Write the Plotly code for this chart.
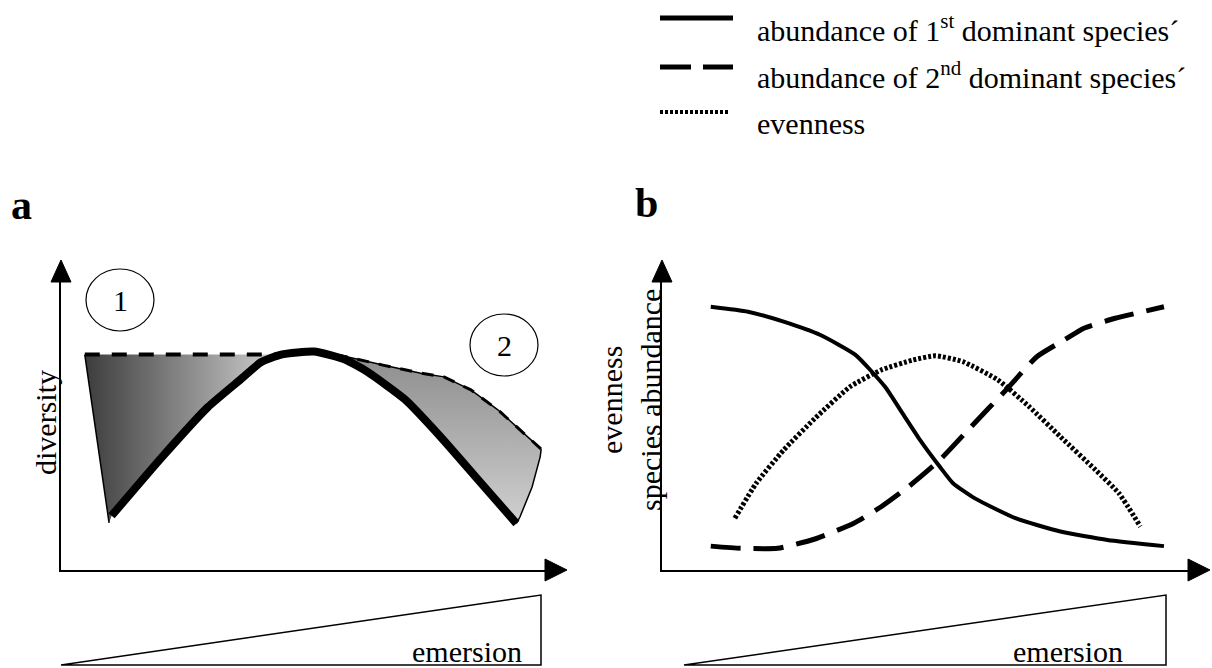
import plotly.graph_objects as go

W, H = 1212, 668
FONT = "Liberation Serif, Times New Roman, serif"


def px(x):
    return x / W


def py(y):
    return 1 - y / H


# ---------------- panel a: diversity along the emersion gradient ----------------
emersion_a = [10, 20, 29, 35.5, 39.5, 43.5, 50, 56, 60.5, 68, 75, 82.5, 90]
diversity_realised = [17.5, 36.5, 52.5, 61.5, 67, 69.5, 70.5, 68, 64, 55, 43, 29, 15]

# potential diversity (upper envelope of the shaded areas)
potential_left_x = [4.7, 43.5]
potential_left_y = [69.5, 69.5]
potential_right_x = [50, 56.7, 63.6, 71.1, 75.7, 81.0, 86.4, 90.7, 94.9]
potential_right_y = [70.5, 68.7, 66.1, 63.5, 62.3, 58.1, 51.6, 45.2, 39.0]

# outer edges closing the shaded areas
edge_left_x = [4.7, 9.5]
edge_left_y = [69.5, 15.2]
edge_right_x = [94.9, 94.7, 93.1, 90.7, 90]
edge_right_y = [39.0, 36.5, 26.8, 17.1, 15]

# ---------------- panel b: abundance and evenness ----------------
emersion_first = [8.9, 15.7, 22.2, 28.9, 35.3, 40.7, 43.9, 47.1, 50.7, 53.1, 57.1, 64.5, 72.7, 81.3, 91.6]
abundance_first = [84.9, 83.3, 80.1, 75.8, 69.4, 59.1, 50.5, 41.9, 33.3, 28.0, 23.1, 16.7, 12.4, 9.7, 7.7]

emersion_second = [8.9, 14.3, 21.1, 27.9, 35.0, 40.0, 45.0, 50.7, 56.4, 62.8, 68.4, 73.4, 77.0, 82.7, 91.6]
abundance_second = [7.7, 7.0, 7.0, 10.0, 15.1, 20.4, 26.9, 35.5, 46.2, 58.1, 68.8, 74.2, 78.0, 81.2, 84.9]

emersion_even = [13.3, 17.2, 22.2, 27.9, 34.3, 40.0, 45.7, 49.9, 54.9, 61.3, 67.0, 72.7, 79.1, 83.4, 87.3]
evenness = [16.7, 28.0, 38.7, 48.9, 59.1, 64.5, 67.7, 69.1, 67.2, 61.3, 52.7, 43.0, 32.3, 24.7, 14.0]

legend_labels = [
    "abundance of 1<sup>st</sup> dominant species\u00b4",
    "abundance of 2<sup>nd</sup> dominant species\u00b4",
    "evenness",
]

# axis geometry (pixels): origin, end of the axis line, arrow tip
A_X0, A_XEND, A_XTIP = 61, 546, 567
B_X0, B_XEND, B_XTIP = 662, 1189, 1210
Y0, YEND, YTIP = 570, 281, 260
SX_A, SX_B, SY = 5.06, 5.48, 3.10  # pixels per data unit

fig = go.Figure()

# shaded area left of the optimum
left_poly_x = potential_left_x + [x for x in reversed(emersion_a) if x <= 43.5] + [edge_left_x[1]]
left_poly_y = potential_left_y + [y for x, y in zip(reversed(emersion_a), reversed(diversity_realised)) if x <= 43.5] + [edge_left_y[1]]
fig.add_trace(go.Scatter(
    x=left_poly_x, y=left_poly_y, mode="lines", fill="toself",
    line=dict(width=0, color="rgba(0,0,0,0)"),
    fillgradient=dict(type="horizontal", colorscale=[[0, "#3c3c3c"], [1, "#d2d2d2"]]),
    hoverinfo="skip", xaxis="x", yaxis="y"))

# shaded area right of the optimum
right_curve = [(x, y) for x, y in zip(emersion_a, diversity_realised) if x >= 50]
right_poly_x = [p[0] for p in right_curve] + list(reversed(edge_right_x)) + list(reversed(potential_right_x))
right_poly_y = [p[1] for p in right_curve] + list(reversed(edge_right_y)) + list(reversed(potential_right_y))
fig.add_trace(go.Scatter(
    x=right_poly_x, y=right_poly_y, mode="lines", fill="toself",
    line=dict(width=0, color="rgba(0,0,0,0)"),
    fillgradient=dict(type="vertical", colorscale=[[0, "#d0d0d0"], [1, "#8c8c8c"]]),
    hoverinfo="skip", xaxis="x", yaxis="y"))

# thin outlines
for xs, ys in [(edge_left_x, edge_left_y), (edge_right_x, edge_right_y), (potential_right_x, potential_right_y)]:
    fig.add_trace(go.Scatter(x=xs, y=ys, mode="lines", line=dict(color="black", width=1.5),
                             hoverinfo="skip", xaxis="x", yaxis="y"))

# dashed potential diversity
fig.add_trace(go.Scatter(x=potential_left_x, y=potential_left_y, mode="lines",
                         line=dict(color="black", width=4, dash="15px,12px"),
                         hoverinfo="skip", xaxis="x", yaxis="y"))
fig.add_trace(go.Scatter(x=potential_right_x, y=potential_right_y, mode="lines",
                         line=dict(color="black", width=3, dash="12px,10px"),
                         hoverinfo="skip", xaxis="x", yaxis="y"))

# realised diversity
fig.add_trace(go.Scatter(x=emersion_a, y=diversity_realised, mode="lines",
                         line=dict(color="black", width=8, shape="spline", smoothing=0.5),
                         hoverinfo="skip", xaxis="x", yaxis="y"))

# panel b curves
fig.add_trace(go.Scatter(x=emersion_first, y=abundance_first, mode="lines",
                         line=dict(color="black", width=4, shape="spline", smoothing=0.5),
                         hoverinfo="skip", xaxis="x2", yaxis="y2"))
fig.add_trace(go.Scatter(x=emersion_second, y=abundance_second, mode="lines",
                         line=dict(color="black", width=5, dash="30px,13px", shape="spline", smoothing=0.5),
                         hoverinfo="skip", xaxis="x2", yaxis="y2"))
fig.add_trace(go.Scatter(x=emersion_even, y=evenness, mode="lines",
                         line=dict(color="black", width=5, dash="3px,2px", shape="spline", smoothing=0.5),
                         hoverinfo="skip", xaxis="x2", yaxis="y2"))

axis_common = dict(showline=True, linecolor="black", linewidth=2, showgrid=False,
                   zeroline=False, showticklabels=False, ticks="", fixedrange=True)

fig.update_layout(
    width=W, height=H, margin=dict(l=0, r=0, t=0, b=0),
    paper_bgcolor="white", plot_bgcolor="rgba(0,0,0,0)", showlegend=False,
    xaxis=dict(domain=[px(A_X0), px(A_XEND)], range=[0, (A_XEND - A_X0) / SX_A], anchor="y", **axis_common),
    yaxis=dict(domain=[py(Y0), py(YEND)], range=[0, (Y0 - YEND) / SY], anchor="x", **axis_common),
    xaxis2=dict(domain=[px(B_X0), px(B_XEND)], range=[0, (B_XEND - B_X0) / SX_B], anchor="y2", **axis_common),
    yaxis2=dict(domain=[py(Y0), py(YEND)], range=[0, (Y0 - YEND) / SY], anchor="x2", **axis_common),
)


def tri(points):
    d = "M " + " L ".join(f"{px(x):.5f},{py(y):.5f}" for x, y in points) + " Z"
    return dict(type="path", path=d, xref="paper", yref="paper",
                fillcolor="black", line=dict(color="black", width=1))


shapes = [
    # arrow heads
    tri([(A_X0, YTIP), (A_X0 - 10, YEND + 1), (A_X0 + 10, YEND + 1)]),
    tri([(A_XTIP, Y0), (A_XEND - 1, Y0 - 11), (A_XEND - 1, Y0 + 11)]),
    tri([(B_X0, YTIP), (B_X0 - 10, YEND + 1), (B_X0 + 10, YEND + 1)]),
    tri([(B_XTIP, Y0), (B_XEND - 1, Y0 - 11), (B_XEND - 1, Y0 + 11)]),
]

# emersion wedges
for xl, xr in [(61, 541), (684, 1166)]:
    d = f"M {px(xl):.5f},{py(665):.5f} L {px(xr):.5f},{py(595):.5f} L {px(xr):.5f},{py(665):.5f} Z"
    shapes.append(dict(type="path", path=d, xref="paper", yref="paper",
                       line=dict(color="black", width=1.5), fillcolor="rgba(0,0,0,0)"))

# numbered circles
CIRCLES = [(120, 300), (504, 345)]
for cx, cy in CIRCLES:
    shapes.append(dict(type="circle", xref="paper", yref="paper",
                       x0=px(cx - 34), x1=px(cx + 34), y0=py(cy + 31), y1=py(cy - 31),
                       line=dict(color="black", width=1.2)))

# legend keys
shapes.append(dict(type="line", xref="paper", yref="paper", x0=px(660), x1=px(733), y0=py(18), y1=py(18),
                   line=dict(color="black", width=5)))
shapes.append(dict(type="line", xref="paper", yref="paper", x0=px(660), x1=px(733), y0=py(67), y1=py(67),
                   line=dict(color="black", width=5, dash="31px,12px")))
shapes.append(dict(type="line", xref="paper", yref="paper", x0=px(660), x1=px(728), y0=py(112), y1=py(112),
                   line=dict(color="black", width=4, dash="3px,2px")))

fig.update_layout(shapes=shapes)

ann = []


def text(x, y, s, size=30, xanchor="center", yanchor="middle", angle=0, bold=False):
    ann.append(dict(x=px(x), y=py(y), xref="paper", yref="paper", text=f"<b>{s}</b>" if bold else s,
                    showarrow=False, xanchor=xanchor, yanchor=yanchor, textangle=angle,
                    font=dict(family=FONT, size=size, color="black")))


for lab, yy in zip(legend_labels, [28, 75, 123]):
    text(755, yy, lab, xanchor="left")

text(21, 205, "a", size=42, bold=True)
text(646, 203, "b", size=42, bold=True)
text(CIRCLES[0][0], CIRCLES[0][1], "1")
text(CIRCLES[1][0], CIRCLES[1][1], "2")
text(45, 423, "diversity", angle=-90)
text(631, 400, "evenness<br>species abundance", angle=-90)
text(524, 651, "emersion", xanchor="right")
text(1125, 651, "emersion", xanchor="right")

fig.update_layout(annotations=ann)

fig.write_html("out.html")
